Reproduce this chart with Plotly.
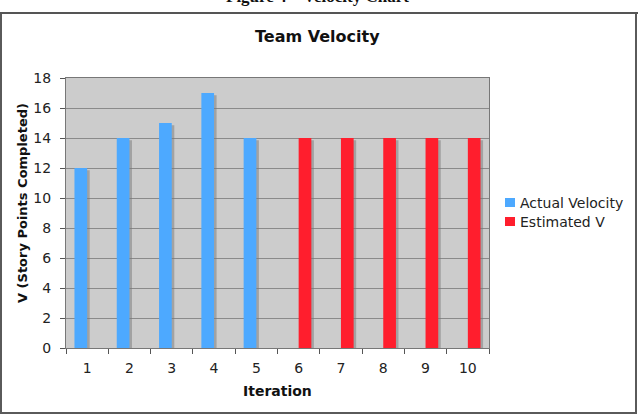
import plotly.graph_objects as go

iterations = ["1", "2", "3", "4", "5", "6", "7", "8", "9", "10"]
actual_velocity = [12, 14, 15, 17, 14, None, None, None, None, None]
estimated_v = [None, None, None, None, None, 14, 14, 14, 14, 14]
y_ticks = [0, 2, 4, 6, 8, 10, 12, 14, 16, 18]
series_names = ["Actual Velocity", "Estimated V"]
series_colors = ["#4DA9FF", "#FF1E2D"]

W, H = 641, 417
L, R, T, B = 66, 489, 78, 348
FONT = "DejaVu Sans"

def px(x):
    return (x - L) / (R - L)

def py(y):
    return (B - y) / (B - T)

fig = go.Figure()
bar_w = 0.3
shadow = "rgba(120,120,120,0.5)"
# shadows
fig.add_trace(go.Bar(x=iterations, y=[None if v is None else v - 0.15 for v in actual_velocity],
                     width=bar_w, offset=-bar_w + 0.06, marker=dict(color=shadow, line_width=0),
                     showlegend=False, hoverinfo="skip"))
fig.add_trace(go.Bar(x=iterations, y=[None if v is None else v - 0.15 for v in estimated_v],
                     width=bar_w, offset=0.06, marker=dict(color=shadow, line_width=0),
                     showlegend=False, hoverinfo="skip"))
fig.add_trace(go.Bar(x=iterations, y=actual_velocity, name=series_names[0], showlegend=False,
                     width=bar_w, offset=-bar_w, marker=dict(color=series_colors[0], line_width=0)))
fig.add_trace(go.Bar(x=iterations, y=estimated_v, name=series_names[1], showlegend=False,
                     width=bar_w, offset=0.0, marker=dict(color=series_colors[1], line_width=0)))

shapes = [
    dict(type="line", xref="paper", yref="paper", x0=px(0), x1=px(638), y0=py(13), y1=py(13),
         line=dict(color="#555555", width=2)),
    dict(type="rect", xref="paper", yref="paper", x0=px(1), x1=px(636), y0=py(13), y1=py(413),
         line=dict(color="#5a5a5a", width=2), layer="below"),
]

annotations = [
    dict(text="<b>Figure 4 – Velocity Chart</b>", xref="paper", yref="paper",
         x=px(317), y=py(8), xanchor="center", yanchor="bottom", showarrow=False,
         font=dict(family="Liberation Serif", size=17, color="#111111")),
    dict(text="<b>Team Velocity</b>", xref="paper", yref="paper",
         x=px(317), y=py(36), xanchor="center", yanchor="middle", showarrow=False,
         font=dict(family=FONT, size=16, color="#111111")),
    dict(text="<b>V (Story Points Completed)</b>", xref="paper", yref="paper",
         x=px(22), y=py(203), xanchor="center", yanchor="middle", textangle=-90, showarrow=False,
         font=dict(family=FONT, size=13, color="#111111")),
    dict(text="<b>Iteration</b>", xref="paper", yref="paper",
         x=px(277), y=py(391), xanchor="center", yanchor="middle", showarrow=False,
         font=dict(family=FONT, size=14, color="#111111")),
]

# manual legend (to match the compact spacing of the reference)
legend_rows = [203, 222]
for name, color, yc in zip(series_names, series_colors, legend_rows):
    shapes.append(dict(type="rect", xref="paper", yref="paper",
                       x0=px(505), x1=px(515), y0=py(yc - 5), y1=py(yc + 4),
                       fillcolor=color, line_width=0))
    annotations.append(dict(text=name, xref="paper", yref="paper",
                            x=px(518), y=py(yc), xanchor="left", yanchor="middle",
                            showarrow=False,
                            font=dict(family=FONT, size=14, color="#222222")))

fig.update_layout(
    width=W, height=H,
    margin=dict(l=L, r=W - R, t=T, b=H - B, pad=0, autoexpand=False),
    paper_bgcolor="white",
    plot_bgcolor="#CCCCCC",
    barmode="overlay",
    showlegend=False,
    shapes=shapes,
    annotations=annotations,
    font=dict(family=FONT, size=14, color="#222222"),
)
fig.update_xaxes(
    type="category", range=[-0.5, 9.5], showgrid=False,
    ticks="outside", ticklen=5, tickcolor="#555555", tickson="boundaries",
    ticklabelstandoff=7,
    showline=True, linecolor="#777777", linewidth=1, mirror=True,
    tickfont=dict(family=FONT, size=14, color="#222222"),
)
fig.update_yaxes(
    range=[0, 18], tickvals=y_ticks, showgrid=True, gridcolor="#8a8a8a", gridwidth=1,
    ticks="outside", ticklen=5, tickcolor="#555555",
    ticklabelstandoff=6,
    showline=True, linecolor="#777777", linewidth=1, mirror=True,
    zeroline=False,
    tickfont=dict(family=FONT, size=14, color="#222222"),
)

fig.write_html("out.html")
